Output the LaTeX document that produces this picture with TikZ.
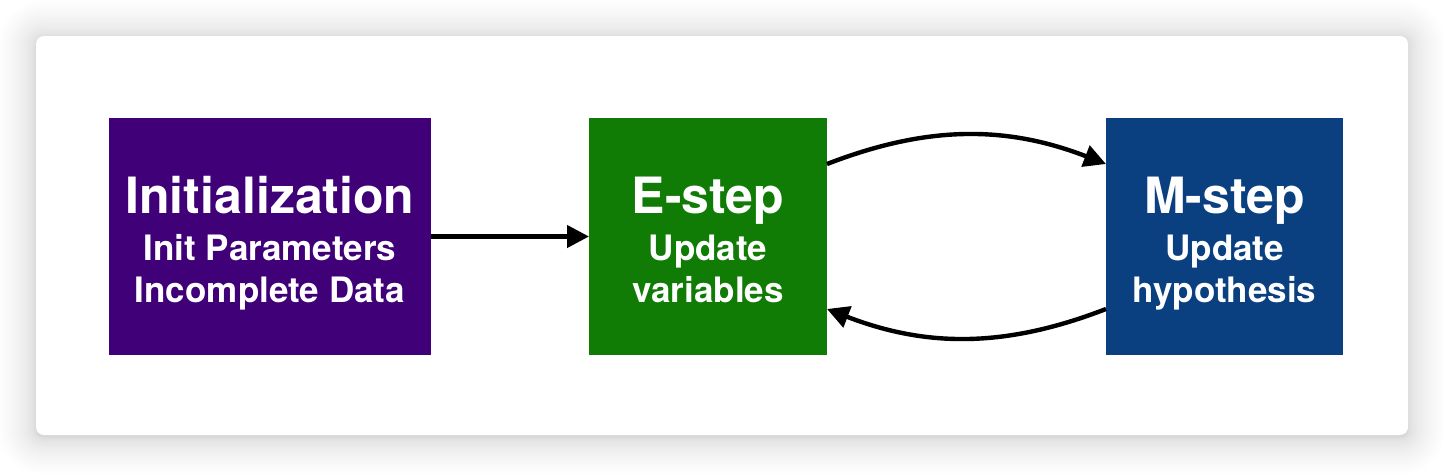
\documentclass[tikz,border=0pt]{standalone}
\usepackage{fontspec}
\setmainfont{TeX Gyre Heros}
\usetikzlibrary{arrows.meta,calc}
\definecolor{initc}{HTML}{400078}
\definecolor{ec}{HTML}{107C05}
\definecolor{mc}{HTML}{0A4080}
\begin{document}
\begin{tikzpicture}[x=1pt,y=-1pt,
  box/.style={rectangle,inner sep=0pt,outer sep=0pt,draw=none,minimum height=237pt},
  ttl/.style={anchor=base,text=white,inner sep=0pt,font=\fontsize{50}{60}\selectfont\bfseries},
  sub/.style={anchor=base,text=white,inner sep=0pt,font=\fontsize{35}{42}\selectfont\bfseries},
  arr/.style={line width=4.4pt,-{Triangle[length=22pt,width=22pt]}}]
\useasboundingbox (0,0) rectangle (1444,472);
% card shadow (soft, denser near the card)
\foreach \k in {1,...,40}{
  \pgfmathsetmacro{\e}{38*(\k/40)^2}
  \fill[black,opacity=0.0055,rounded corners=8pt+\e pt] (36-\e,38-\e) rectangle (1408+\e,437+\e);
}
\fill[white,rounded corners=8pt] (36,36) rectangle (1408,435);
% boxes
\node[box,fill=initc,minimum width=322pt] (init) at (270,236.5) {};
\node[box,fill=ec,minimum width=238pt] (E) at (708,236.5) {};
\node[box,fill=mc,minimum width=237pt] (M) at (1224.5,236.5) {};
% texts
\node[ttl] (initT) at (270,213) {Initialization};
\node[sub] (initA) at (270,260.5) {Init Parameters};
\node[sub] (initB) at (270,302) {Incomplete Data};
\node[ttl] (ET) at (708,213) {E-step};
\node[sub] (EA) at (708,260.5) {Update};
\node[sub] (EB) at (708,302) {variables};
\node[ttl] (MT) at (1224.5,213) {M-step};
\node[sub] (MA) at (1224.5,260.5) {Update};
\node[sub] (MB) at (1224.5,302) {hypothesis};
% connectors
\draw[arr] (init.east) -- (E.west);
\coordinate (e1) at ($(E.east)+(0,-72.5)$);
\coordinate (m1) at ($(M.west)+(0,-72.5)$);
\coordinate (m2) at ($(M.west)+(0,72.5)$);
\coordinate (e2) at ($(E.east)+(0,72.5)$);
\draw[arr] (e1) .. controls ($(e1)+(100,-38.7)$) and ($(m1)+(-100,-38.7)$) .. (m1);
\draw[arr] (m2) .. controls ($(m2)+(-100,38.7)$) and ($(e2)+(100,38.7)$) .. (e2);
\end{tikzpicture}
\end{document}
